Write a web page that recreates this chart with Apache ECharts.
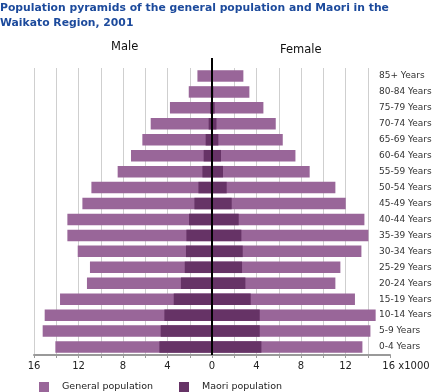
<!DOCTYPE html>
<html>
<head>
<meta charset="utf-8">
<script src="https://cdn.jsdelivr.net/npm/echarts@6/dist/echarts.min.js"></script>
<style>html,body{margin:0;padding:0;background:#fff}#c{width:437px;height:392px}</style>
</head>
<body>
<div id="c"></div>
<script>
// Age groups, top to bottom
var ageGroups = ['85+ Years','80-84 Years','75-79 Years','70-74 Years','65-69 Years','60-64 Years','55-59 Years','50-54 Years','45-49 Years','40-44 Years','35-39 Years','30-34 Years','25-29 Years','20-24 Years','15-19 Years','10-14 Years','5-9 Years','0-4 Years'];
// values in thousands
var maleGeneral   = [1.31,2.09,3.78,5.51,6.26,7.28,8.48,10.84,11.65,13.0,13.0,12.07,10.97,11.24,13.66,15.04,15.22,14.08];
var femaleGeneral = [2.82,3.36,4.62,5.73,6.36,7.5,8.78,11.09,12.02,13.7,14.06,13.43,11.54,11.09,12.85,14.71,14.24,13.52];
var maleMaori     = [0.05,0.1,0.18,0.3,0.57,0.75,0.86,1.22,1.58,2.07,2.3,2.34,2.45,2.79,3.44,4.28,4.61,4.73];
var femaleMaori   = [0.05,0.12,0.24,0.4,0.57,0.81,0.99,1.32,1.77,2.4,2.64,2.76,2.7,3.0,3.48,4.29,4.29,4.44];
var xTicks = {min:-16, max:16, step:2, labelStep:4, unitSuffix:' x1000'};

var FONT = 'DejaVu Sans';
var GEN = '#996699', MAO = '#663366';
var chart = echarts.init(document.getElementById('c'), null, {renderer:'canvas'});
var neg = function(a){return a.map(function(v){return -v;});};
var option = {
  animation:false,
  title:[
    {text:'Population pyramids of the general population and Maori in the\nWaikato Region, 2001', left:0, top:1, padding:0,
     textStyle:{fontFamily:FONT, fontWeight:'bold', fontSize:10.8, color:'#1c4a9c', lineHeight:15}},
    {text:'Male', left:111, top:41, padding:0, textStyle:{fontFamily:FONT, fontWeight:'normal', fontSize:11.5, color:'#111'}},
    {text:'Female', left:280, top:44, padding:0, textStyle:{fontFamily:FONT, fontWeight:'normal', fontSize:11.5, color:'#111'}}
  ],
  grid:{left:34, right:47, top:68, bottom:37},
  legend:{data:['General population','Maori population'], left:39, top:382, padding:0, itemWidth:10, itemHeight:10, itemGap:26, icon:'rect',
    textStyle:{fontFamily:FONT, fontSize:9.5, color:'#222', padding:[0,0,0,8]}},
  xAxis:{type:'value', min:xTicks.min, max:xTicks.max, interval:xTicks.step,
    axisLine:{show:true, lineStyle:{color:'#999', width:2}},
    axisTick:{show:true, length:3, lineStyle:{color:'#999'}},
    splitLine:{show:true, showMaxLine:false, lineStyle:{color:'#cfcfcf', width:1}},
    axisLabel:{fontFamily:FONT, fontSize:10, color:'#222', margin:6,
      formatter:function(v){ if (v % xTicks.labelStep !== 0) return ''; if (v === xTicks.max) return '{u|' + v + xTicks.unitSuffix + '}'; return String(Math.abs(v)); },
      rich:{u:{fontFamily:FONT, fontSize:10, color:'#222', padding:[0,0,0,32]}}}
  },
  yAxis:[{type:'category', data:ageGroups, inverse:true, position:'right',
    axisLine:{show:false}, axisTick:{show:false},
    axisLabel:{fontFamily:FONT, fontSize:9, color:'#333', margin:-11, align:'left'}}],
  series:[
    {name:'General population', type:'bar', stack:'g', data:neg(maleGeneral), barWidth:'72%', barGap:'-100%', itemStyle:{color:GEN}},
    {name:'General population', type:'bar', stack:'g', data:femaleGeneral, barWidth:'72%', barGap:'-100%', itemStyle:{color:GEN}},
    {name:'Maori population', type:'bar', stack:'m', data:neg(maleMaori), barWidth:'72%', barGap:'-100%', itemStyle:{color:MAO}},
    {name:'Maori population', type:'bar', stack:'m', data:femaleMaori, barWidth:'72%', barGap:'-100%', itemStyle:{color:MAO}}
  ]
};
chart.setOption(option);
var x0 = chart.convertToPixel({xAxisIndex:0}, 0);
var yb = chart.convertToPixel({yAxisIndex:0}, ageGroups[ageGroups.length-1]);
var band = chart.getModel().getComponent('yAxis',0).axis.getBandWidth();
chart.setOption({graphic:[{type:'line', z:100, shape:{x1:x0, y1:58, x2:x0, y2:yb + band/2}, style:{stroke:'#000', lineWidth:2}}]});
</script>
</body>
</html>
